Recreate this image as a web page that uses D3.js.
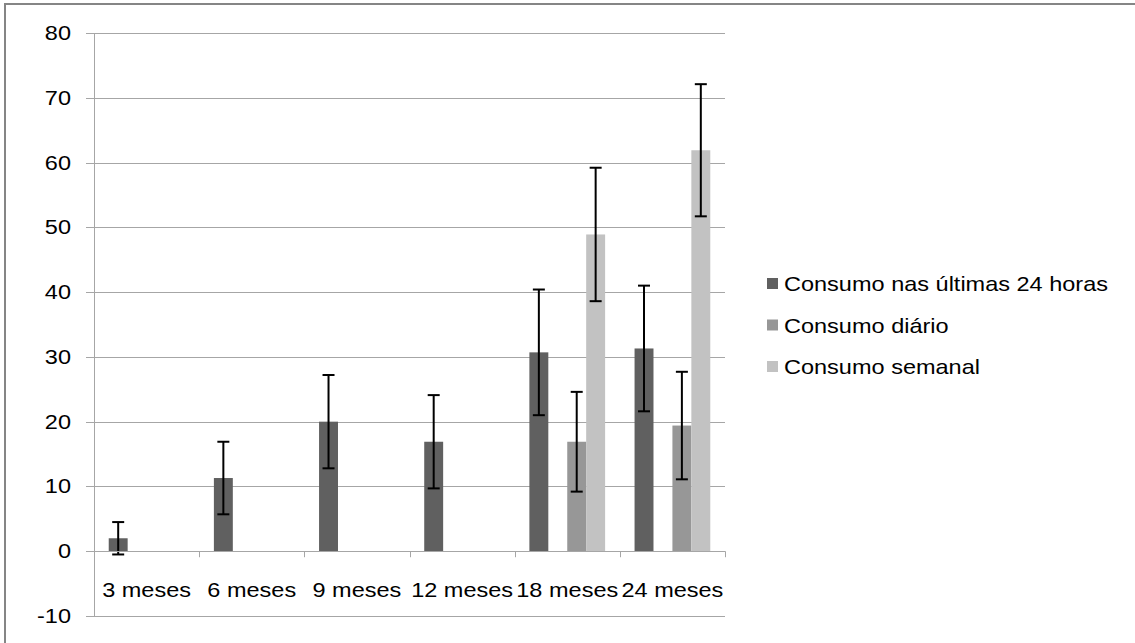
<!DOCTYPE html>
<html>
<head>
<meta charset="utf-8">
<script src="https://cdn.jsdelivr.net/npm/d3@7"></script>
<style>
  body { margin: 0; background: #fff; }
  text { font-family: "Liberation Sans", Arial, sans-serif; fill: #000; }
</style>
</head>
<body>
<script>
  // categories and series
  const categories = ["3 meses", "6 meses", "9 meses", "12 meses", "18 meses", "24 meses"];
  // the chart has an empty slot between the first and second series
  const seriesNames = ["Consumo nas últimas 24 horas", "", "Consumo diário", "Consumo semanal"];
  const seriesColors = ["#606060", "none", "#979797", "#c2c2c2"];

  const val24h = [2.0, 11.3, 20.0, 16.9, 30.7, 31.3];
  const err24h = [2.5, 5.6, 7.2, 7.2, 9.7, 9.7];
  const valEmpty = [null, null, null, null, null, null];
  const valDiario = [null, null, null, null, 16.9, 19.4];
  const errDiario = [null, null, null, null, 7.7, 8.3];
  const valSemanal = [null, null, null, null, 48.9, 61.9];
  const errSemanal = [null, null, null, null, 10.3, 10.2];

  const yTicks = [-10, 0, 10, 20, 30, 40, 50, 60, 70, 80];

  const seriesVals = [val24h, valEmpty, valDiario, valSemanal];
  const seriesErrs = [err24h, valEmpty, errDiario, errSemanal];

  const W = 1135, H = 643;
  const fontSize = "21px";
  const stretch = 1.12; // the text in the original is a bit wide

  const svg = d3.select("body").append("svg")
    .attr("width", W)
    .attr("height", H);

  // outer frame
  svg.append("rect")
    .attr("x", 5).attr("y", 4)
    .attr("width", W + 10).attr("height", H + 10)
    .attr("fill", "none")
    .attr("stroke", "#858585")
    .attr("stroke-width", 2);

  const plot = { left: 94, right: 725, top: 33, bottom: 616 };

  const y = d3.scaleLinear()
    .domain([-10, 80])
    .range([plot.bottom, plot.top]);

  const x = d3.scaleBand()
    .domain(categories)
    .range([plot.left, plot.right])
    .paddingInner(0)
    .paddingOuter(0);

  // 4 bar slots, gap split on both sides
  const x1 = d3.scaleBand()
    .domain(d3.range(seriesNames.length))
    .range([x.bandwidth() * 0.14, x.bandwidth() * 0.86]);

  // gridlines
  svg.append("g")
    .selectAll("line")
    .data(yTicks)
    .join("line")
    .attr("x1", plot.left - 8)
    .attr("x2", plot.right)
    .attr("y1", d => Math.round(y(d)) + 0.5)
    .attr("y2", d => Math.round(y(d)) + 0.5)
    .attr("stroke", "#a6a6a6")
    .attr("stroke-width", 1);

  // y labels
  svg.append("g")
    .selectAll("text")
    .data(yTicks)
    .join("text")
    .attr("transform", d => "translate(71," + (y(d) + 7) + ") scale(" + stretch + ",1)")
    .attr("text-anchor", "end")
    .style("font-size", fontSize)
    .text(d => d);

  // y axis line
  svg.append("line")
    .attr("x1", plot.left + 0.5).attr("x2", plot.left + 0.5)
    .attr("y1", plot.top).attr("y2", plot.bottom)
    .attr("stroke", "#a6a6a6");

  // bars
  const groups = svg.append("g")
    .selectAll("g")
    .data(categories)
    .join("g")
    .attr("transform", d => "translate(" + x(d) + ",0)");

  groups.selectAll("rect")
    .data((d, i) => seriesVals.map((s, k) => ({ k: k, v: s[i], e: seriesErrs[k][i] })).filter(o => o.v != null))
    .join("rect")
    .attr("x", d => x1(d.k))
    .attr("width", x1.bandwidth())
    .attr("y", d => y(d.v))
    .attr("height", d => y(0) - y(d.v))
    .attr("fill", d => seriesColors[d.k]);

  // x axis line at zero with category ticks
  svg.append("line")
    .attr("x1", plot.left).attr("x2", plot.right)
    .attr("y1", Math.round(y(0)) + 0.5).attr("y2", Math.round(y(0)) + 0.5)
    .attr("stroke", "#a6a6a6");

  svg.append("g")
    .selectAll("line")
    .data(categories)
    .join("line")
    .attr("x1", d => Math.round(x(d) + x.bandwidth()) + 0.5)
    .attr("x2", d => Math.round(x(d) + x.bandwidth()) + 0.5)
    .attr("y1", y(0))
    .attr("y2", y(0) + 6)
    .attr("stroke", "#a6a6a6");

  // error bars
  const errs = groups.selectAll("g.err")
    .data((d, i) => seriesVals.map((s, k) => ({ k: k, v: s[i], e: seriesErrs[k][i] })).filter(o => o.v != null && o.e != null))
    .join("g")
    .attr("class", "err")
    .attr("stroke", "#000")
    .attr("stroke-width", 2);

  errs.append("line")
    .attr("x1", d => x1(d.k) + x1.bandwidth() / 2)
    .attr("x2", d => x1(d.k) + x1.bandwidth() / 2)
    .attr("y1", d => y(d.v + d.e))
    .attr("y2", d => y(d.v - d.e));

  errs.selectAll("line.cap")
    .data(d => [d.v + d.e, d.v - d.e].map(t => ({ k: d.k, t: t })))
    .join("line")
    .attr("class", "cap")
    .attr("x1", d => x1(d.k) + x1.bandwidth() / 2 - 6)
    .attr("x2", d => x1(d.k) + x1.bandwidth() / 2 + 6)
    .attr("y1", d => y(d.t))
    .attr("y2", d => y(d.t));

  // category labels
  svg.append("g")
    .selectAll("text")
    .data(categories)
    .join("text")
    .attr("transform", d => "translate(" + (x(d) + x.bandwidth() / 2) + ",597) scale(" + stretch + ",1)")
    .attr("text-anchor", "middle")
    .style("font-size", fontSize)
    .text(d => d);

  // legend
  const legendItems = seriesNames.map((n, k) => ({ n: n, c: seriesColors[k] })).filter(o => o.n !== "");
  const legend = svg.append("g")
    .selectAll("g")
    .data(legendItems)
    .join("g")
    .attr("transform", (d, i) => "translate(767," + (284 + i * 41.5) + ")");

  legend.append("rect")
    .attr("x", 0).attr("y", -6)
    .attr("width", 11).attr("height", 11)
    .attr("fill", d => d.c);

  legend.append("text")
    .attr("transform", "translate(17,7) scale(" + stretch + ",1)")
    .style("font-size", fontSize)
    .text(d => d.n);
</script>
</body>
</html>
